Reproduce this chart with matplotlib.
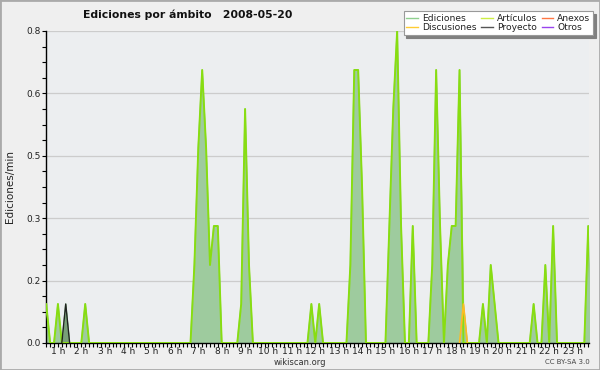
import matplotlib
matplotlib.use("Agg")
import matplotlib.pyplot as plt
import numpy as np
from matplotlib.ticker import MultipleLocator, FixedLocator, FormatStrFormatter
from matplotlib.patches import Rectangle

# 10-minute bins (hour, minute) -> edits per minute
bin_hours = [h + m / 60 for h in range(24) for m in (0, 10, 20, 30, 40, 50)]

ediciones = [
    0, 0, 0, 0.1, 0, 0,          # 0 h
    0.1, 0, 0.1, 0, 0, 0,        # 1 h
    0, 0.1, 0, 0, 0, 0,          # 2 h
    0, 0, 0, 0, 0, 0,            # 3 h
    0, 0, 0, 0, 0, 0,            # 4 h
    0, 0, 0, 0, 0, 0,            # 5 h
    0, 0, 0, 0, 0, 0.2,          # 6 h
    0.5, 0.7, 0.5, 0.2, 0.3, 0.3,  # 7 h
    0, 0, 0, 0, 0, 0.1,          # 8 h
    0.6, 0.2, 0, 0, 0, 0,        # 9 h
    0, 0, 0, 0, 0, 0,            # 10 h
    0, 0, 0, 0, 0, 0.1,          # 11 h
    0, 0.1, 0, 0, 0, 0,          # 12 h
    0, 0, 0, 0.2, 0.7, 0.7,      # 13 h
    0.4, 0, 0, 0, 0, 0,          # 14 h
    0, 0.3, 0.6, 0.8, 0.3, 0,    # 15 h
    0, 0.3, 0, 0, 0, 0,          # 16 h
    0.2, 0.7, 0.3, 0, 0.2, 0.3,  # 17 h
    0.3, 0.7, 0.1, 0, 0, 0,      # 18 h
    0, 0.1, 0, 0.2, 0.1, 0,      # 19 h
    0, 0, 0, 0, 0, 0,            # 20 h
    0, 0, 0.1, 0, 0, 0.2,        # 21 h
    0, 0.3, 0, 0, 0, 0,          # 22 h
    0, 0, 0, 0, 0.3, 0,          # 23 h
]

articulos = [
    0, 0, 0, 0.1, 0, 0,
    0.1, 0, 0, 0, 0, 0,
    0, 0.1, 0, 0, 0, 0,
    0, 0, 0, 0, 0, 0,
    0, 0, 0, 0, 0, 0,
    0, 0, 0, 0, 0, 0,
    0, 0, 0, 0, 0, 0.2,
    0.5, 0.7, 0.5, 0.2, 0.3, 0.3,
    0, 0, 0, 0, 0, 0.1,
    0.6, 0.2, 0, 0, 0, 0,
    0, 0, 0, 0, 0, 0,
    0, 0, 0, 0, 0, 0.1,
    0, 0.1, 0, 0, 0, 0,
    0, 0, 0, 0.2, 0.7, 0.7,
    0.4, 0, 0, 0, 0, 0,
    0, 0.3, 0.6, 0.8, 0.3, 0,
    0, 0.3, 0, 0, 0, 0,
    0.2, 0.7, 0.3, 0, 0.2, 0.3,
    0.3, 0.7, 0, 0, 0, 0,
    0, 0.1, 0, 0.2, 0.1, 0,
    0, 0, 0, 0, 0, 0,
    0, 0, 0.1, 0, 0, 0.2,
    0, 0.3, 0, 0, 0, 0,
    0, 0, 0, 0, 0.3, 0,
]

# sparse series: (hour, value) with surrounding zero bins
discusiones_h = [18 + 10/60, 18 + 20/60, 18 + 30/60]
discusiones_v = [0, 0.1, 0]
proyecto_h = [1 + 10/60, 1 + 20/60, 1 + 30/60]
proyecto_v = [0, 0.1, 0]

hour_labels = [f"{h} h" for h in range(1, 24)]
y_ticks = [0, 0.16, 0.32, 0.48, 0.64, 0.8]

legend_names = ["Ediciones", "Discusiones", "Artículos", "Proyecto", "Anexos", "Otros"]
legend_colors = ["#8fd08f", "#ffcc33", "#ccee44", "#555555", "#ff7744", "#9944ee"]

plt.rcParams['font.family'] = ['DejaVu Sans']

fig = plt.figure(figsize=(6, 3.7), dpi=100, facecolor="#efefef")
ax = fig.add_axes([46/600, 1 - 343/370, (589 - 46)/600, (343 - 31)/370])
ax.set_facecolor("#eceef0")

x = np.array(bin_hours)
ax.fill_between(x, ediciones, 0, color="#9ecb9e", lw=0, zorder=2)
ax.fill_between(proyecto_h, proyecto_v, 0, color="#4a6a4a", alpha=0.45, lw=0, zorder=3)
ax.plot(x, ediciones, color="#8fd08f", lw=1.0, zorder=3)
ax.plot(x, articulos, color="#88dd11", lw=1.4, zorder=4)
ax.plot(discusiones_h, discusiones_v, color="#ffbb22", lw=1.2, zorder=5)
ax.plot(proyecto_h, proyecto_v, color="#222222", lw=1.0, zorder=5)

ax.set_xlim(0.49, 23.70)
ax.set_ylim(0, 0.8)

ax.yaxis.set_major_locator(FixedLocator(y_ticks))
ax.yaxis.set_major_formatter(FormatStrFormatter('%.1f'))
ax.yaxis.set_minor_locator(MultipleLocator(0.04))
ax.xaxis.set_major_locator(FixedLocator(list(range(1, 24))))
ax.set_xticklabels(hour_labels)
ax.xaxis.set_minor_locator(MultipleLocator(1/6))

ax.grid(axis='y', which='major', color="#cccccc", lw=0.9, zorder=1)
ax.set_axisbelow(True)
for s in ("top", "right"):
    ax.spines[s].set_visible(False)
for s in ("left", "bottom"):
    ax.spines[s].set_color("black")
    ax.spines[s].set_linewidth(1.0)
ax.tick_params(axis='both', which='major', length=3, width=0.8, labelsize=6.5, pad=1, colors="black", labelcolor="#222222")
ax.tick_params(axis='both', which='minor', length=3, width=0.8)
ax.tick_params(axis='x', which='major', labelsize=6.5, pad=0)

fig.text(10/600, 1 - 187/370, "Ediciones/min", rotation=90, ha="center", va="center", fontsize=7.5, color="#222222")
fig.text(188/600, 1 - 15/370, "Ediciones por ámbito   2008-05-20", ha="center", va="center", fontsize=7.8, fontweight="bold", color="#111111")
fig.text(300/600, 1 - 362.5/370, "wikiscan.org", ha="center", va="center", fontsize=6, color="#333333")
fig.text(590/600, 1 - 362.5/370, "CC BY-SA 3.0", ha="right", va="center", fontsize=5, color="#444444")

handles = [plt.Line2D([], [], color=c, lw=1.0) for c in legend_colors]
leg = fig.legend(handles, legend_names, ncol=3, loc="upper right",
                 bbox_to_anchor=(593/600, 1 - 11/370), fontsize=6.6,
                 frameon=True, fancybox=False, shadow={'color': '#808080', 'alpha': 1},
                 edgecolor="#999999", framealpha=1, borderpad=0.3,
                 handlelength=1.3, handletextpad=0.4, columnspacing=0.5,
                 labelspacing=0.05, borderaxespad=0)
leg.get_frame().set_linewidth(0.8)
for t in leg.get_texts():
    t.set_color("#222222")

fig.patches.append(Rectangle((0, 0), 1, 1, transform=fig.transFigure, fill=False,
                             edgecolor="#aaaaaa", lw=2.0, zorder=10))

fig.savefig("out.png", dpi=100, facecolor=fig.get_facecolor())
